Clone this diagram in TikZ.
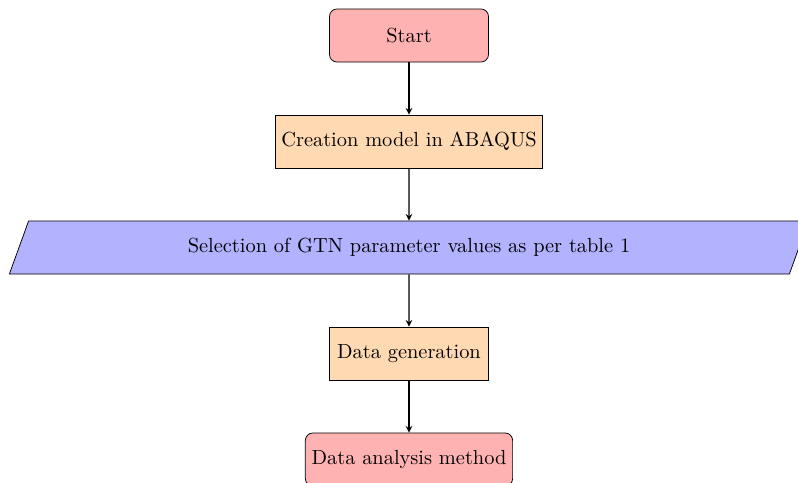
\documentclass[tikz,border=0pt]{standalone}
\usetikzlibrary{shapes.geometric,arrows}
\begin{document}
\begin{tikzpicture}[
  font=\fontsize{10.95}{13.6}\selectfont,
  startstop/.style={rectangle, rounded corners, minimum width=3cm, minimum height=1cm, text centered, draw=black, fill=red!30},
  process/.style={rectangle, minimum width=3cm, minimum height=1cm, text centered, draw=black, fill=orange!30},
  io/.style={trapezium, trapezium left angle=58, trapezium right angle=122, trapezium stretches body, minimum width=15.08cm, minimum height=1cm, text centered, draw=black, fill=blue!30},
  arrow/.style={semithick,->,>=stealth}
]
\useasboundingbox (-7.717,0.670) rectangle (7.340,-8.425);
\node (start) [startstop] at (0,0) {Start};
\node (model) [process] at (0,-2) {Creation model in ABAQUS};
\node (gtn) [io] at (0,-4) {Selection of GTN parameter values as per table 1};
\node (gen) [process] at (0,-6) {Data generation};
\node (anal) [startstop] at (0,-8) {Data analysis method};
\draw [arrow] (start) -- (model);
\draw [arrow] (model) -- (gtn);
\draw [arrow] (gtn) -- (gen);
\draw [arrow] (gen) -- (anal);
\end{tikzpicture}
\end{document}
